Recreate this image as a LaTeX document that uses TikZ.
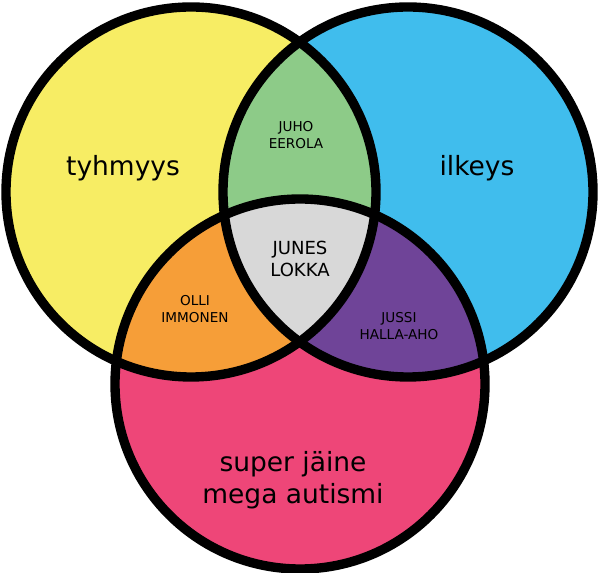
\documentclass[tikz,border=0pt]{standalone}
\usepackage{fontspec}
\setmainfont{DejaVu Sans}
\usepackage{tikz}
\usepackage{xcolor}
\usetikzlibrary{positioning}
\definecolor{tyhmyel}{RGB}{247,237,100}
\definecolor{ilkblue}{RGB}{64,189,237}
\definecolor{autpink}{RGB}{238,70,120}
\definecolor{mixgreen}{RGB}{141,203,136}
\definecolor{mixorange}{RGB}{246,158,56}
\definecolor{mixpurple}{RGB}{111,68,152}
\definecolor{mixgray}{RGB}{216,216,216}

\begin{document}
\begin{tikzpicture}[
    x=0.03cm, y=0.03cm,
    ring/.style={draw=black, line width=8pt},
    bigtxt/.style={font=\fontsize{22.6}{27.8}\selectfont,
                   align=center, inner sep=0pt},
    midtxt/.style={font=\fontsize{15.4}{18.5}\selectfont,
                   align=center, inner sep=0pt},
    smalltxt/.style={font=\fontsize{11.6}{14}\selectfont,
                     align=center, inner sep=0pt}
]
    \useasboundingbox (0,0) rectangle (600,573);
    \fill[white] (0,0) rectangle (600,573);

    \coordinate (tyh) at (191,381);
    \coordinate (ilk) at (408,381);
    \coordinate (aut) at (300,189);

    % the three sets
    \fill[tyhmyel] (tyh) circle[radius=185];
    \fill[ilkblue] (ilk) circle[radius=185];
    \fill[autpink] (aut) circle[radius=185];

    % pairwise overlaps
    \begin{scope}
        \clip (tyh) circle[radius=185];
        \fill[mixgreen] (ilk) circle[radius=185];
        \fill[mixorange] (aut) circle[radius=185];
    \end{scope}
    \begin{scope}
        \clip (ilk) circle[radius=185];
        \fill[mixpurple] (aut) circle[radius=185];
    \end{scope}
    % all three
    \begin{scope}
        \clip (tyh) circle[radius=185];
        \clip (ilk) circle[radius=185];
        \fill[mixgray] (aut) circle[radius=185];
    \end{scope}

    \draw[ring] (tyh) circle[radius=185];
    \draw[ring] (ilk) circle[radius=185];
    \draw[ring] (aut) circle[radius=185];

    \node[bigtxt] (tyhlbl) at (123,405) {tyhmyys};
    \node[bigtxt] (ilklbl) at (477,405) {ilkeys};
    \node[bigtxt] (autlbl) at (293,93) {super jäine\\mega autismi};

    \node[smalltxt] (juho) at (296,438) {JUHO\\EEROLA};
    \node[midtxt] (junes) at (300,314) {JUNES\\LOKKA};
    \node[smalltxt] (olli) at (195,264) {OLLI\\IMMONEN};
    \node[smalltxt] (jussi) at (399,247) {JUSSI\\HALLA-AHO};
\end{tikzpicture}
\end{document}
